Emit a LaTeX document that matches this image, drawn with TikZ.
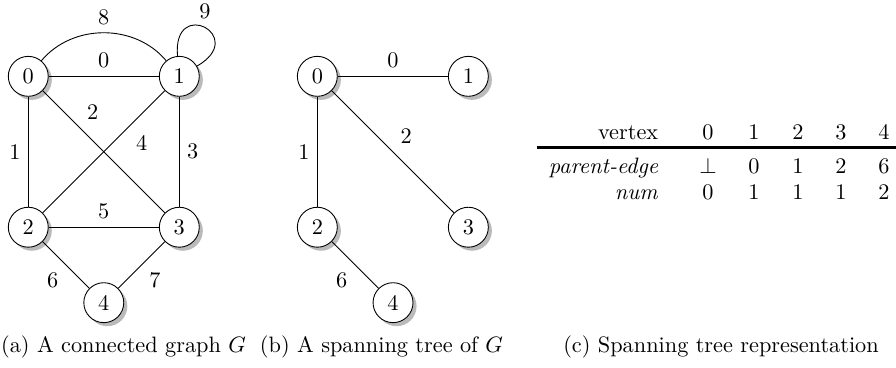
\documentclass[tikz,border=0pt]{standalone}
\usepackage{tikz}
\usetikzlibrary{shadows}
\tikzset{
  vtx/.style={circle,draw,fill=white,minimum size=0.63cm,inner sep=0pt,
    drop shadow={shadow xshift=1.6pt,shadow yshift=-1.6pt,fill=black!45,opacity=0.6}},
  cell/.style={anchor=base},
  rowlabel/.style={anchor=base east}
}
\begin{document}
\begin{tikzpicture}
\useasboundingbox (0,0) rectangle (14.132,5.804);
% (a) connected graph
\node[vtx] (a0) at (0.446,4.60) {0};
\node[vtx] (a1) at (2.828,4.60) {1};
\node[vtx] (a2) at (0.446,2.22) {2};
\node[vtx] (a3) at (2.828,2.22) {3};
\node[vtx] (a4) at (1.637,1.03) {4};
\draw (a0) -- node[above] (ea0) {0} (a1);
\draw (a0) -- node[left] (ea1) {1} (a2);
\draw (a0) -- node[pos=0.3,above right] (ea2) {2} (a3);
\draw (a1) -- node[right] (ea3) {3} (a3);
\draw (a2) -- node[pos=0.7,below right] (ea4) {4} (a1);
\draw (a2) -- node[above] (ea5) {5} (a3);
\draw (a2) -- node[below left] (ea6) {6} (a4);
\draw (a3) -- node[below right] (ea7) {7} (a4);
\draw (a0) to[bend left=50] node[above] (ea8) {8} (a1);
\draw (a1) to[loop,out=95,in=30,looseness=7] node[above] (ea9) {9} (a1);
% (b) spanning tree
\node[vtx] (b0) at (5.005,4.60) {0};
\node[vtx] (b1) at (7.387,4.60) {1};
\node[vtx] (b2) at (5.005,2.22) {2};
\node[vtx] (b3) at (7.387,2.22) {3};
\node[vtx] (b4) at (6.199,1.03) {4};
\draw (b0) -- node[above] (eb0) {0} (b1);
\draw (b0) -- node[left] (eb1) {1} (b2);
\draw (b0) -- node[above right] (eb2) {2} (b3);
\draw (b2) -- node[below left] (eb6) {6} (b4);
% (c) table
\node[rowlabel] (hv) at (10.505,3.596) {vertex};
\node[rowlabel] (hp) at (10.505,3.071) {\textit{parent-edge}};
\node[rowlabel] (hm) at (10.505,2.655) {\textit{num}};
\node[cell] (v0) at (11.167,3.596) {0};
\node[cell] (v1) at (11.893,3.596) {1};
\node[cell] (v2) at (12.587,3.596) {2};
\node[cell] (v3) at (13.265,3.596) {3};
\node[cell] (v4) at (13.943,3.596) {4};
\node[cell] (p0) at (11.167,3.071) {$\bot$};
\node[cell] (p1) at (11.893,3.071) {0};
\node[cell] (p2) at (12.587,3.071) {1};
\node[cell] (p3) at (13.265,3.071) {2};
\node[cell] (p4) at (13.943,3.071) {6};
\node[cell] (m0) at (11.167,2.655) {0};
\node[cell] (m1) at (11.893,2.655) {1};
\node[cell] (m2) at (12.587,2.655) {1};
\node[cell] (m3) at (13.265,2.655) {1};
\node[cell] (m4) at (13.943,2.655) {2};
\draw[line width=1.2pt] (8.470,3.475) -- (14.132,3.475);
% captions
\node[anchor=base] (capa) at (1.948,0.252) {(a) A connected graph $G$};
\node[anchor=base] (capb) at (6.017,0.252) {(b) A spanning tree of $G$};
\node[anchor=base] (capc) at (11.372,0.252) {(c) Spanning tree representation};
\end{tikzpicture}
\end{document}
